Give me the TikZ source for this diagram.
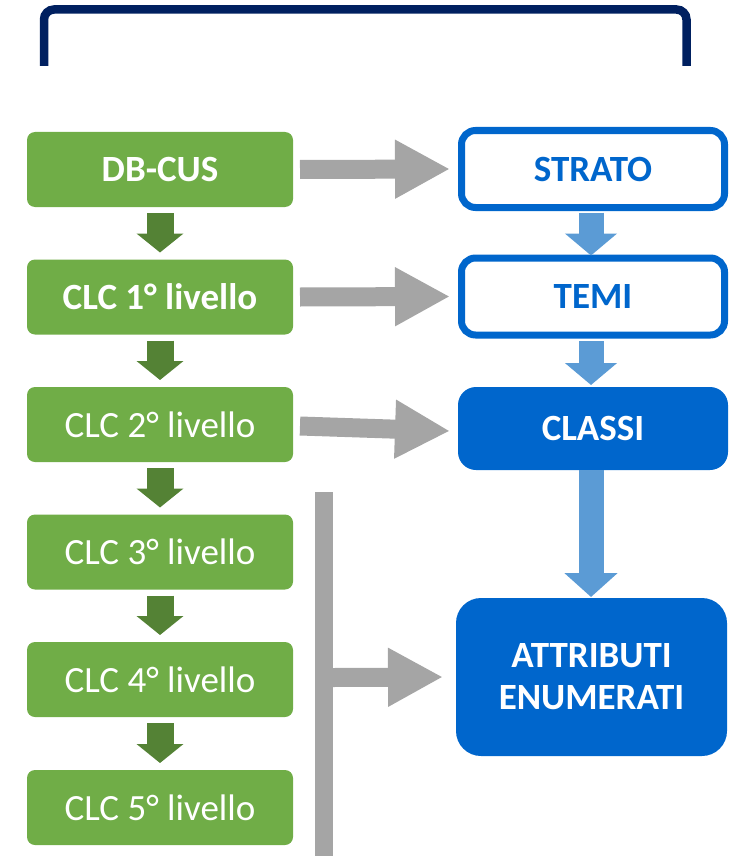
\documentclass[tikz,border=0pt]{standalone}
\usepackage{fontspec}
\setmainfont{Carlito}
\usetikzlibrary{arrows.meta}
\definecolor{boxgreen}{HTML}{70AD47}
\definecolor{arrowgreen}{HTML}{548235}
\definecolor{boxblue}{HTML}{0066CC}
\definecolor{arrowblue}{HTML}{5B9BD5}
\definecolor{arrowgray}{HTML}{A5A5A5}
\definecolor{navy}{HTML}{002060}
\begin{document}
\begin{tikzpicture}[x=1pt,y=-1pt,
  txt/.style={font=\fontsize{37}{42}\selectfont},
  greenbox/.style={txt, fill=boxgreen, rounded corners=8pt, minimum width=266pt, minimum height=75pt, inner sep=0pt, outer sep=0pt, text=white},
  blueline/.style={draw=boxblue, line width=7pt, fill=white, rounded corners=14pt, minimum width=263pt, minimum height=77pt, inner sep=0pt, outer sep=0pt, text=boxblue, font=\fontsize{37}{42}\selectfont\bfseries},
  bluefill/.style={fill=boxblue, rounded corners=18pt, minimum width=270pt, minimum height=83pt, inner sep=0pt, outer sep=0pt, text=white, font=\fontsize{37}{42}\selectfont\bfseries},
  greenarrow/.style={draw=arrowgreen, line width=27pt, -{Triangle[length=19pt,width=46pt]}},
  bluearrow/.style={draw=arrowblue, line width=25pt, -{Triangle[length=22pt,width=51pt]}},
  grayarrow/.style={draw=arrowgray, line width=19pt, -{Triangle[length=55pt,width=55pt]}},
  bracket/.style={draw=navy, line width=8.5pt, rounded corners=10pt}
]
\useasboundingbox (0,0) rectangle (736,856);

% top bracket
\draw[bracket] (44,66) -- (44,9.5) -- (686.5,9.5) -- (686.5,66);

% green column
\node[greenbox, font=\fontsize{37}{42}\selectfont\bfseries] (db) at (160,169.5) {DB-CUS};
\node[greenbox, font=\fontsize{37}{42}\selectfont\bfseries] (c1) at (160,297) {CLC 1° livello};
\node[greenbox] (c2) at (160,424.5) {CLC 2° livello};
\node[greenbox] (c3) at (160,552) {CLC 3° livello};
\node[greenbox] (c4) at (160,679.5) {CLC 4° livello};
\node[greenbox] (c5) at (160,807.5) {CLC 5° livello};

\draw[greenarrow] ([yshift=-6pt]db.south) -- ([yshift=7pt]c1.north);
\draw[greenarrow] ([yshift=-6pt]c1.south) -- ([yshift=7pt]c2.north);
\draw[greenarrow] ([yshift=-6pt]c2.south) -- ([yshift=7pt]c3.north);
\draw[greenarrow] ([yshift=-6pt]c3.south) -- ([yshift=7pt]c4.north);
\draw[greenarrow] ([yshift=-6pt]c4.south) -- ([yshift=7pt]c5.north);

% blue column
\node[blueline] (strato) at (593,169) {STRATO};
\node[blueline] (temi) at (593,296.5) {TEMI};
\node[bluefill] (classi) at (593,428.5) {CLASSI};
\node[bluefill, rounded corners=25pt, minimum width=271pt, minimum height=158pt, align=center] (attr) at (591.5,677) {ATTRIBUTI\\ENUMERATI};

\draw[bluearrow] ([xshift=-2pt,yshift=-5pt]strato.south) -- ([xshift=-2pt,yshift=2.5pt]temi.north);
\draw[bluearrow] ([xshift=-2pt,yshift=-6pt]temi.south) -- ([xshift=-2pt,yshift=2pt]classi.north);
\draw[bluearrow, -{Triangle[length=24pt,width=52pt]}] ([xshift=-2pt]classi.south) -- ([xshift=-0.5pt,yshift=1pt]attr.north);

% gray arrows
\draw[grayarrow] ([xshift=7pt]db.east) -- ([xshift=-11.5pt]strato.west);
\draw[grayarrow] ([xshift=7pt]c1.east) -- ([xshift=-11.5pt]temi.west);
\draw[grayarrow] ([xshift=7pt,yshift=-1.5pt]c2.east) -- ([xshift=-8pt,yshift=-2.5pt]classi.west);

% gray bar
\coordinate (bartop) at (324,492);
\coordinate (barbot) at (324,856);
\coordinate (barjoin) at (324,677.5);
\draw[draw=arrowgray, line width=18pt] (bartop) -- (barbot);
\draw[grayarrow] ([xshift=9pt]barjoin) -- ([xshift=-13pt]attr.west);
\end{tikzpicture}
\end{document}
